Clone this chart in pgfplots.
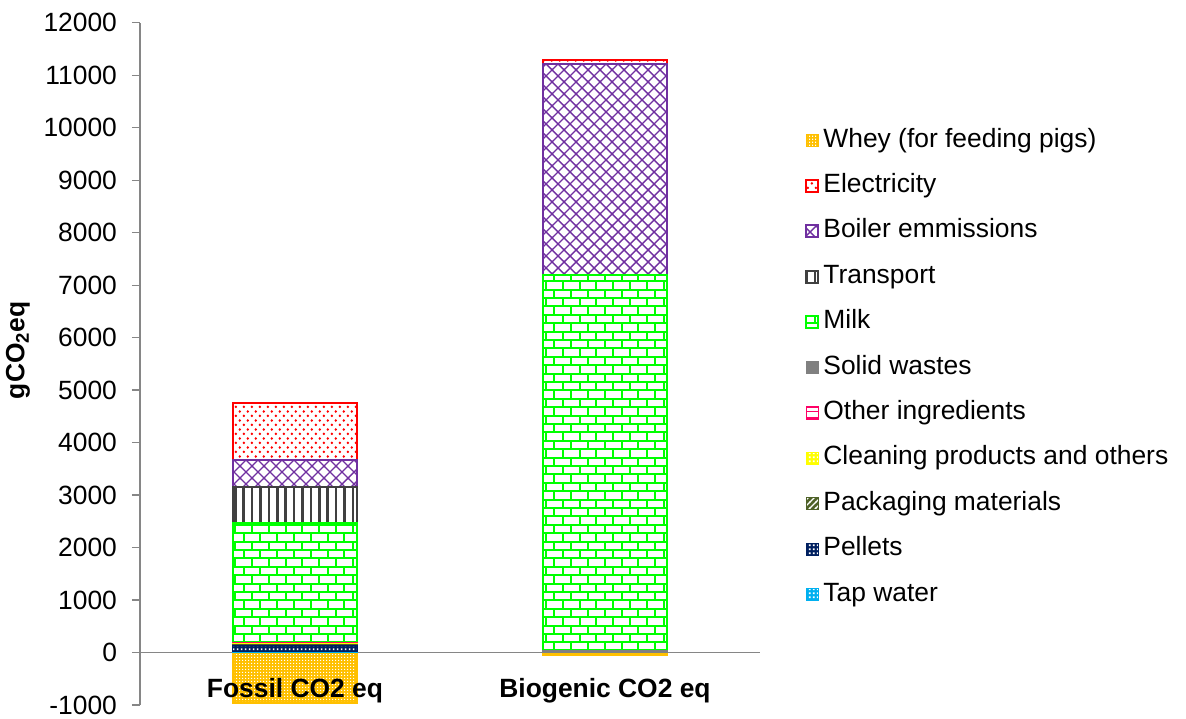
\documentclass[border=0pt]{standalone}
\usepackage{pgfplots}
\pgfplotsset{compat=1.18}
\usepackage{fontspec}
\setmainfont{Liberation Sans}
\usetikzlibrary{patterns}

\definecolor{axisgray}{HTML}{868686}
\definecolor{wheyc}{HTML}{FFC000}
\definecolor{elec}{HTML}{FF0000}
\definecolor{boil}{HTML}{7030A0}
\definecolor{trans}{HTML}{404040}
\definecolor{milkc}{HTML}{00FF00}
\definecolor{solidc}{HTML}{808080}
\definecolor{otherc}{HTML}{FF0066}
\definecolor{cleanc}{HTML}{FFFF00}
\definecolor{packc}{HTML}{4F6228}
\definecolor{pellc}{HTML}{002060}
\definecolor{tapc}{HTML}{00B0F0}

\pgfdeclarepatternformonly{mybricks}{\pgfqpoint{-0.6pt}{-0.6pt}}{\pgfqpoint{9pt}{9pt}}{\pgfqpoint{8.4pt}{8.4pt}}{%
 \pgfsetlinewidth{1pt}%
 \pgfpathmoveto{\pgfqpoint{-0.6pt}{0pt}}\pgfpathlineto{\pgfqpoint{9pt}{0pt}}%
 \pgfpathmoveto{\pgfqpoint{-0.6pt}{4.2pt}}\pgfpathlineto{\pgfqpoint{9pt}{4.2pt}}%
 \pgfpathmoveto{\pgfqpoint{0pt}{0pt}}\pgfpathlineto{\pgfqpoint{0pt}{4.2pt}}%
 \pgfpathmoveto{\pgfqpoint{4.2pt}{4.2pt}}\pgfpathlineto{\pgfqpoint{4.2pt}{8.4pt}}%
 \pgfusepath{stroke}}
\pgfdeclarepatternformonly{myvlines}{\pgfqpoint{-1pt}{-1pt}}{\pgfqpoint{1pt}{5pt}}{\pgfqpoint{4.2pt}{4pt}}{%
 \pgfsetlinewidth{1.3pt}\pgfpathmoveto{\pgfqpoint{0pt}{-1pt}}\pgfpathlineto{\pgfqpoint{0pt}{5pt}}\pgfusepath{stroke}}
\pgfdeclarepatternformonly{mylattice}{\pgfqpoint{-0.5pt}{-0.5pt}}{\pgfqpoint{6.5pt}{6.5pt}}{\pgfqpoint{6pt}{6pt}}{%
 \pgfsetlinewidth{0.7pt}\pgfpathmoveto{\pgfqpoint{-0.5pt}{-0.5pt}}\pgfpathlineto{\pgfqpoint{6.5pt}{6.5pt}}%
 \pgfpathmoveto{\pgfqpoint{-0.5pt}{6.5pt}}\pgfpathlineto{\pgfqpoint{6.5pt}{-0.5pt}}\pgfusepath{stroke}}
\pgfdeclarepatternformonly{mydots}{\pgfqpoint{0pt}{0pt}}{\pgfqpoint{4.2pt}{4.4pt}}{\pgfqpoint{4.2pt}{4.4pt}}{%
 \pgfpathcircle{\pgfqpoint{1pt}{1.1pt}}{0.7pt}\pgfpathcircle{\pgfqpoint{3.1pt}{3.3pt}}{0.7pt}\pgfusepath{fill}}
\pgfdeclarepatternformonly{mysq}{\pgfqpoint{0pt}{0pt}}{\pgfqpoint{2pt}{2pt}}{\pgfqpoint{2pt}{2pt}}{%
 \pgfpathrectangle{\pgfqpoint{0.5pt}{0.5pt}}{\pgfqpoint{1pt}{1pt}}\pgfusepath{fill}}
\pgfdeclarepatternformonly{mychk}{\pgfqpoint{0pt}{0pt}}{\pgfqpoint{1.6pt}{1.6pt}}{\pgfqpoint{1.6pt}{1.6pt}}{%
 \pgfpathrectangle{\pgfqpoint{0pt}{0pt}}{\pgfqpoint{0.75pt}{0.75pt}}\pgfusepath{fill}}
\pgfdeclarepatternformonly{mydiag}{\pgfqpoint{-0.5pt}{-0.5pt}}{\pgfqpoint{3.5pt}{3.5pt}}{\pgfqpoint{3pt}{3pt}}{%
 \pgfsetlinewidth{0.6pt}\pgfpathmoveto{\pgfqpoint{-0.5pt}{-0.5pt}}\pgfpathlineto{\pgfqpoint{3.5pt}{3.5pt}}\pgfusepath{stroke}}

\pgfplotsset{
  mylegend/.style={legend image code/.code={\draw[##1] (0pt,-3pt) rectangle (6pt,3pt);}},
}
\newcommand{\fs}{\fontsize{13.2}{15}\selectfont}

\begin{document}
\begin{tikzpicture}
\begin{axis}[scale only axis, width=310pt, height=341.15pt,
  xmin=-0.5, xmax=1.5, ymin=-1000, ymax=12000, hide axis, ybar, bar width=0.403]
\addplot[fill=wheyc, draw=wheyc, line width=1pt, postaction={pattern=mychk, pattern color=white}] coordinates {(0,-965) (1,-40)};
\end{axis}
\begin{axis}[name=ax, scale only axis, width=310pt, height=341.15pt,
  xmin=-0.5, xmax=1.5, ymin=-1000, ymax=12000,
  ybar stacked, bar width=0.403,
  axis y line=left, axis x line=middle,
  axis line style={-, draw=axisgray, line width=0.6pt},
  hide obscured x ticks=false, hide obscured y ticks=false,
  tick align=outside,
  scaled y ticks=false,
  ytick={-1000,0,...,12000},
  xtick={0,1}, xticklabels={Fossil CO2 eq, Biogenic CO2 eq},
  xticklabel style={font=\fs\bfseries, yshift=-5.5pt},
  x tick style={draw=none},
  extra x ticks={-0.5,0.5,1.5}, extra x tick labels={},
  extra x tick style={tick style={draw=axisgray, line width=0.6pt}, major tick length=3.5pt},
  y tick style={draw=axisgray, line width=0.6pt}, major tick length=4pt,
  yticklabel style={font=\fs, xshift=-4pt},
  /pgf/number format/assume math mode=true, /pgf/number format/1000 sep={},
  ylabel={gCO\textsubscript{2}eq},
  every axis y label/.style={at={(axis description cs:-0.197,0.52)}, rotate=90, anchor=center, font=\fs\bfseries},
  reverse legend, legend cell align=left,
  legend style={draw=none, fill=none, at={(1.0726,0.846)}, anchor=north west, inner sep=0pt,
    row sep=10.2pt, font=\fs,
    nodes={inner sep=0pt, text height=9.5pt, text depth=3pt},
    /tikz/every odd column/.style={column sep=2pt}},
]
\addplot[mylegend, fill=tapc, draw=tapc, line width=0.5pt, postaction={pattern=mysq, pattern color=white}] coordinates {(0,5) (1,0)};
\addlegendentry{Tap water}
\addplot[mylegend, fill=pellc, draw=pellc, line width=0.5pt, postaction={pattern=mysq, pattern color=white}] coordinates {(0,130) (1,0)};
\addlegendentry{Pellets}
\addplot[mylegend, fill=packc, draw=packc, line width=0.5pt, postaction={pattern=mydiag, pattern color=white}] coordinates {(0,10) (1,0)};
\addlegendentry{Packaging materials}
\addplot[mylegend, fill=cleanc, draw=cleanc, line width=0.5pt, postaction={pattern=mysq, pattern color=white}] coordinates {(0,30) (1,0)};
\addlegendentry{Cleaning products and others}
\addplot[mylegend, draw=otherc, line width=0.8pt, pattern=horizontal lines, pattern color=otherc] coordinates {(0,10) (1,0)};
\addlegendentry{Other ingredients}
\addplot[mylegend, fill=solidc, draw=solidc, line width=0.5pt] coordinates {(0,5) (1,40)};
\addlegendentry{Solid wastes}
\addplot[mylegend, draw=milkc, line width=1pt, pattern=mybricks, pattern color=milkc] coordinates {(0,2270) (1,7160)};
\addlegendentry{Milk}
\addplot[mylegend, draw=trans, line width=1pt, pattern=myvlines, pattern color=trans] coordinates {(0,695) (1,0)};
\addlegendentry{Transport}
\addplot[mylegend, draw=boil, line width=1pt, pattern=mylattice, pattern color=boil] coordinates {(0,505) (1,4015)};
\addlegendentry{Boiler emmissions}
\addplot[mylegend, draw=elec, line width=1pt, pattern=mydots, pattern color=elec] coordinates {(0,1090) (1,80)};
\addlegendentry{Electricity}
\addlegendimage{mylegend, fill=wheyc, draw=wheyc, line width=0.5pt, postaction={pattern=mychk, pattern color=white}}
\addlegendentry{Whey (for feeding pigs)}
\end{axis}
\pgfresetboundingbox
\path[use as bounding box] (ax.south west) ++(-70pt,-6.5pt) rectangle ++(593pt,359pt);
\end{tikzpicture}
\end{document}
